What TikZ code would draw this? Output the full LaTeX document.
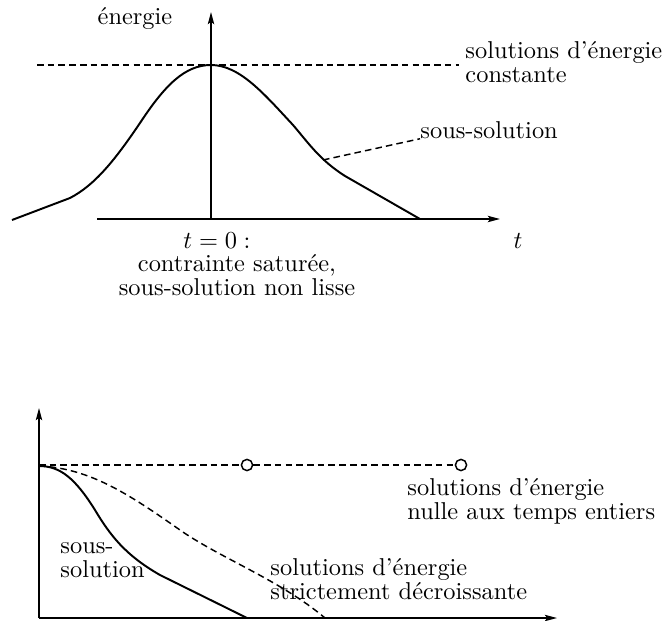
\documentclass[tikz,border=0pt]{standalone}
\usetikzlibrary{arrows.meta}
\begin{document}
\begin{tikzpicture}[
x=0.41pt, y=-0.41pt,   % pixel grid of the sketch, y going down
axis/.style={
        line width=0.7pt,
        -{Stealth[length=5pt, width=2.6pt, inset=1pt]},
    },
   curve/.style = {
   line width = 0.8pt,
   },
   level/.style = {
   line width = 0.6pt,
   dash pattern = on 2.7pt off 1.7pt,
   },
   lbl/.style = {
    inner sep = 0pt,
    align = left,
    font = \fontsize{10}{10}\selectfont,
   },
   hole/.style = {
   draw, circle, fill = white, line width = 0.6pt,
   minimum size = 4.6pt, inner sep = 0pt,
   },
 ]
\useasboundingbox (0,0) rectangle (667,621);

% upper picture: energy around t = 0
\coordinate (origin) at (211,219);
\coordinate (ytop) at (211,12);
\coordinate (xstart) at (97,219);
\coordinate (xend) at (500,219);
\draw[axis] (origin) -- (ytop);
\draw[axis] (xstart) -- (xend);

\node[lbl, anchor = base] (energy) at (135,25) {énergie};
\node[lbl, anchor = base] (tlabel) at (518,248) {$t$};

\coordinate (constl) at (37,65);
\coordinate (constr) at (459,65);
\draw[level] (constl) -- (constr);
\node[lbl, anchor = north west] (constant) at (465,41) {solutions d'énergie\\constante};

\draw[curve] (12,220) -- (70,198) .. controls (95,185) and (115,160) .. (140,123)
  .. controls (165,85) and (185,65) .. (211,65)
  .. controls (240,65) and (265,95) .. (293,125)
  .. controls (310,145) and (320,160) .. (345,176) -- (420,219);
\coordinate (leadfoot) at (323,160);
\node[lbl, anchor = base west] (subsol) at (420,138) {sous-solution};
\draw[level] (leadfoot) -- (subsol.south west);

\node[lbl, anchor = base] (tzero) at (217,248) {$t=0:$};
\node[lbl, align = center, anchor = north] (saturated) at (237,254) {contrainte saturée,\\sous-solution non lisse};

% lower picture: energy decreasing in time
\coordinate (origintwo) at (39,618);
\coordinate (ytoptwo) at (39,408);
\coordinate (xendtwo) at (557,618);
\draw[axis] (origintwo) -- (ytoptwo);
\draw[axis] (origintwo) -- (xendtwo);

\coordinate (start) at (39,465);
\node[hole] (holeone) at (247,465) {};
\node[hole] (holetwo) at (461,465) {};
\draw[level] (start) -- (holeone) -- (holetwo);
\node[lbl, anchor = north west] (integer) at (407,478) {solutions d'énergie\\nulle aux temps entiers};

\draw[curve] (39,466) .. controls (60,466) and (75,478) .. (95,510)
  .. controls (110,535) and (125,555) .. (160,575) -- (247,618);
\draw[level] (39,466) .. controls (90,468) and (130,495) .. (180,530)
  .. controls (220,558) and (280,580) .. (325,618);

\node[lbl, anchor = north west] (subsoltwo) at (60,542) {sous-\\solution};
\node[lbl, anchor = north west] (strict) at (270,558) {solutions d'énergie\\strictement décroissante};
% \node[lbl] at (300,640) {$t$};
\end{tikzpicture}
\end{document}
